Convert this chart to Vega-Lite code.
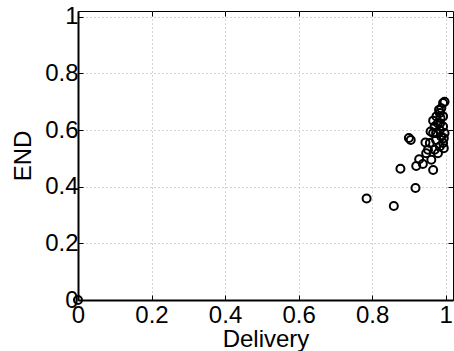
{
  "$schema": "https://vega.github.io/schema/vega-lite/v6.json",
  "width": 375,
  "height": 289,
  "autosize": {"type": "none"},
  "padding": {"left": 78, "top": 11, "right": 1, "bottom": 51},
  "background": "white",
  "config": {
    "view": {"stroke": "black", "strokeWidth": 1},
    "font": "Liberation Sans",
    "axis": {
      "labelFont": "Liberation Sans",
      "titleFont": "Liberation Sans",
      "labelFontSize": 24,
      "titleFontSize": 24,
      "titleFontWeight": "normal",
      "labelColor": "black",
      "titleColor": "black",
      "domainColor": "black",
      "tickColor": "black",
      "gridColor": "#aaaaaa",
      "gridDash": [1, 3],
      "gridWidth": 1,
      "gridOpacity": 1,
      "labelFlush": false,
      "labelOverlap": false
    }
  },
  "data": {
    "values": [
      {"Delivery": 0.0, "END": 0.0},
      {"Delivery": 0.785, "END": 0.358},
      {"Delivery": 0.859, "END": 0.332},
      {"Delivery": 0.918, "END": 0.395},
      {"Delivery": 0.877, "END": 0.463},
      {"Delivery": 0.900, "END": 0.572},
      {"Delivery": 0.905, "END": 0.565},
      {"Delivery": 0.945, "END": 0.556},
      {"Delivery": 0.966, "END": 0.459},
      {"Delivery": 0.920, "END": 0.473},
      {"Delivery": 0.928, "END": 0.497},
      {"Delivery": 0.938, "END": 0.480},
      {"Delivery": 0.947, "END": 0.518},
      {"Delivery": 0.961, "END": 0.495},
      {"Delivery": 0.970, "END": 0.530},
      {"Delivery": 0.959, "END": 0.595},
      {"Delivery": 0.966, "END": 0.633},
      {"Delivery": 0.974, "END": 0.565},
      {"Delivery": 0.979, "END": 0.624},
      {"Delivery": 0.993, "END": 0.695},
      {"Delivery": 0.997, "END": 0.700},
      {"Delivery": 0.988, "END": 0.677},
      {"Delivery": 0.984, "END": 0.660},
      {"Delivery": 0.993, "END": 0.648},
      {"Delivery": 0.984, "END": 0.600},
      {"Delivery": 0.988, "END": 0.577},
      {"Delivery": 0.993, "END": 0.554},
      {"Delivery": 0.984, "END": 0.542},
      {"Delivery": 0.979, "END": 0.518},
      {"Delivery": 0.993, "END": 0.612},
      {"Delivery": 0.997, "END": 0.589},
      {"Delivery": 0.970, "END": 0.612},
      {"Delivery": 0.974, "END": 0.589},
      {"Delivery": 0.966, "END": 0.589},
      {"Delivery": 0.957, "END": 0.554},
      {"Delivery": 0.952, "END": 0.530},
      {"Delivery": 0.982, "END": 0.671},
      {"Delivery": 0.986, "END": 0.642},
      {"Delivery": 0.975, "END": 0.648},
      {"Delivery": 0.995, "END": 0.571},
      {"Delivery": 0.995, "END": 0.536},
      {"Delivery": 0.985, "END": 0.624}
    ]
  },
  "resolve": {"axis": {"x": "independent", "y": "independent"}},
  "layer": [
    {
      "mark": {"type": "point", "shape": "circle", "filled": false, "color": "black", "strokeWidth": 2, "size": 64, "opacity": 1},
      "encoding": {
        "x": {
          "field": "Delivery", "type": "quantitative",
          "scale": {"domain": [0, 1.02], "nice": false, "zero": false},
          "axis": {"orient": "bottom", "values": [0, 0.2, 0.4, 0.6, 0.8, 1], "tickSize": -5, "labelPadding": 8, "grid": true, "titlePadding": 0, "domainWidth": 2, "format": "~g"}
        },
        "y": {
          "field": "END", "type": "quantitative",
          "scale": {"domain": [0, 1.02], "nice": false, "zero": false},
          "axis": {"orient": "left", "values": [0, 0.2, 0.4, 0.6, 0.8, 1], "tickSize": -5, "labelPadding": 5, "grid": true, "titlePadding": 9, "domainWidth": 2, "format": "~g"}
        }
      }
    },
    {
      "mark": {"type": "point", "opacity": 0},
      "encoding": {
        "x": {
          "field": "Delivery", "type": "quantitative",
          "scale": {"domain": [0, 1.02], "nice": false, "zero": false},
          "axis": {"orient": "top", "values": [0, 0.2, 0.4, 0.6, 0.8, 1], "tickSize": -5, "labels": false, "title": null, "grid": false, "domain": false}
        },
        "y": {
          "field": "END", "type": "quantitative",
          "scale": {"domain": [0, 1.02], "nice": false, "zero": false},
          "axis": {"orient": "right", "values": [0, 0.2, 0.4, 0.6, 0.8, 1], "tickSize": -5, "labels": false, "title": null, "grid": false, "domain": false}
        }
      }
    }
  ]
}
